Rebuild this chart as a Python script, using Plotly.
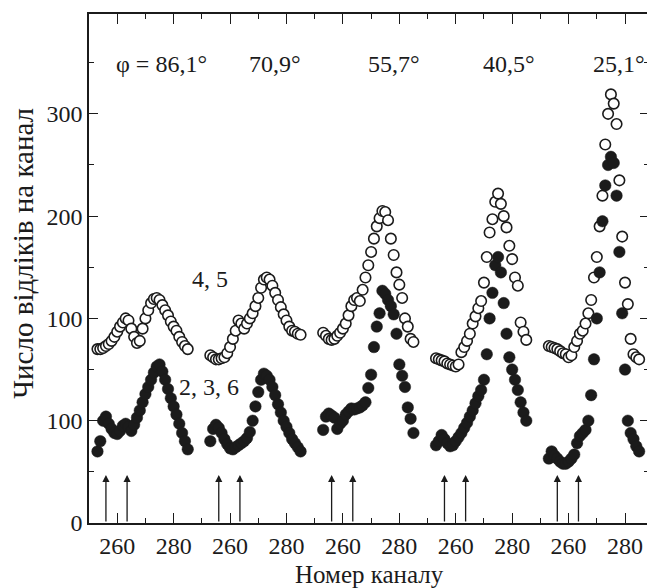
import plotly.graph_objects as go

# ---------------- data ----------------
panel_angles = ["φ = 86,1°", "70,9°", "55,7°", "40,5°", "25,1°"]
panel_offset = [0, 40, 80, 120, 160]          # channel shift used to place panels side by side
channels = list(range(253, 286))              # channel numbers 253..285 (33 channels)

# open circles (spectra 4, 5) -- counts per channel
open_86 = [70, 70, 71, 73, 75, 78, 82, 87, 92, 96, 100, 98, 90, 82, 76, 78, 90, 100, 108, 115, 119, 120, 118, 113, 108, 103, 97, 92, 88, 82, 77, 73, 70]
open_71 = [64, 62, 60, 60, 61, 62, 66, 72, 80, 88, 98, 95, 90, 95, 100, 105, 112, 120, 130, 138, 140, 138, 132, 125, 118, 111, 104, 98, 92, 88, 87, 85, 84]
open_56 = [86, 83, 80, 79, 80, 83, 86, 90, 95, 103, 112, 118, 120, 117, 128, 140, 152, 165, 178, 190, 198, 205, 204, 196, 178, 162, 145, 133, 120, 100, 92, 80, 77]
open_41 = [61, 60, 59, 58, 56, 55, 54, 53, 55, 67, 72, 78, 85, 95, 102, 110, 117, 135, 160, 184, 197, 214, 222, 212, 200, 189, 171, 158, 140, 132, 96, 87, 79]
open_25 = [73, 72, 71, 70, 68, 66, 65, 62, 64, 72, 78, 85, 88, 95, 105, 118, 140, 160, 190, 220, 270, 300, 319, 310, 290, 235, 180, 135, 114, 80, 65, 62, 60]

# filled circles (spectra 2, 3, 6) -- counts per channel
fill_86 = [70, 80, 100, 104, 97, 92, 88, 87, 90, 95, 97, 94, 90, 96, 103, 110, 118, 126, 133, 140, 147, 153, 155, 148, 140, 131, 122, 114, 106, 97, 88, 80, 72]
fill_71 = [80, 92, 96, 93, 88, 82, 77, 73, 72, 74, 76, 78, 80, 83, 89, 100, 114, 128, 140, 146, 144, 140, 133, 125, 116, 108, 100, 94, 88, 82, 78, 74, 70]
fill_56 = [91, 104, 107, 105, 103, 92, 97, 100, 106, 109, 112, 111, 112, 113, 115, 118, 132, 145, 172, 192, 205, 227, 224, 218, 212, 204, 185, 155, 144, 133, 113, 102, 88]
fill_41 = [76, 80, 86, 82, 78, 75, 76, 80, 84, 88, 93, 98, 104, 110, 117, 124, 130, 140, 165, 200, 225, 252, 260, 245, 215, 185, 162, 150, 140, 130, 118, 108, 100]
fill_25 = [63, 70, 66, 63, 60, 58, 58, 60, 63, 67, 78, 85, 88, 91, 100, 125, 160, 200, 245, 295, 330, 350, 358, 352, 320, 265, 205, 150, 100, 88, 82, 75, 70]

open_series = [open_86, open_71, open_56, open_41, open_25]
fill_series = [fill_86, fill_71, fill_56, fill_41, fill_25]
open_shift = 100                               # open-circle spectra are shifted up by 100 counts

arrow_channels = [256, 263.5]
arrow_height = 47

x_tick_channels = [260, 280]
y_tickvals = [0, 100, 200, 300, 400]
y_ticktext = ["0", "100", "100", "200", "300"]

FONT = "Liberation Serif, Times New Roman, serif"
INK = "#1b1b1b"

fig = go.Figure()

for k in range(5):
    xs = [c + panel_offset[k] for c in channels]
    fig.add_trace(go.Scatter(
        x=xs, y=[v + open_shift for v in open_series[k]], mode="markers",
        marker=dict(symbol="circle", size=10.5, color="white", line=dict(color=INK, width=1.6)),
        showlegend=False, hoverinfo="skip"))
    fig.add_trace(go.Scatter(
        x=xs, y=fill_series[k], mode="markers",
        marker=dict(symbol="circle", size=11.5, color=INK, line=dict(color=INK, width=0.5)),
        showlegend=False, hoverinfo="skip"))

# x ticks: repeated per panel
tickvals, ticktext = [], []
for k in range(5):
    for c in x_tick_channels:
        tickvals.append(c + panel_offset[k])
        ticktext.append(str(c))

annotations = []
# arrows
for k in range(5):
    for c in arrow_channels:
        annotations.append(dict(
            x=c + panel_offset[k], y=arrow_height, ax=c + panel_offset[k], ay=0,
            xref="x", yref="y", axref="x", ayref="y", text="", showarrow=True,
            arrowhead=2, arrowsize=1.1, arrowwidth=1.3, arrowcolor=INK))

# panel angle labels
angle_x = [275.7, 316, 358, 399, 438]
for lbl, xa in zip(panel_angles, angle_x):
    annotations.append(dict(x=xa, y=449, xref="x", yref="y", text=lbl, showarrow=False,
                            xanchor="center", yanchor="middle",
                            font=dict(family=FONT, size=24, color=INK)))

annotations.append(dict(x=293, y=239, xref="x", yref="y", text="4, 5", showarrow=False,
                        xanchor="center", yanchor="middle",
                        font=dict(family=FONT, size=24, color=INK)))
annotations.append(dict(x=292.7, y=133, xref="x", yref="y", text="2, 3, 6", showarrow=False,
                        xanchor="center", yanchor="middle",
                        font=dict(family=FONT, size=24, color=INK)))

# axis titles
annotations.append(dict(x=(22 - 89) / 562, y=(523 - 253) / 510, xref="paper", yref="paper",
                        text="Число відліків на канал", textangle=-90, showarrow=False,
                        xanchor="center", yanchor="middle",
                        font=dict(family=FONT, size=29, color=INK)))
annotations.append(dict(x=0.5, y=(523 - 575) / 510, xref="paper", yref="paper",
                        text="Номер каналу", showarrow=False,
                        xanchor="center", yanchor="middle",
                        font=dict(family=FONT, size=25, color=INK)))

# the page body has an 8px margin, so the figure is sized/offset to compensate
fig.update_layout(
    width=647, height=580,
    margin=dict(l=81, r=4, t=5, b=65),
    paper_bgcolor="white", plot_bgcolor="white",
    font=dict(family=FONT, size=24, color=INK),
    annotations=annotations,
    xaxis=dict(range=[250, 448.5], tickvals=tickvals, ticktext=ticktext,
               ticks="inside", ticklen=10, tickwidth=1.3, tickcolor=INK,
               minor=dict(dtick=20, tick0=270, ticks="inside", ticklen=5, tickwidth=1.3, tickcolor=INK),
               showline=True, linecolor=INK, linewidth=1.5, mirror="ticks",
               showgrid=False, zeroline=False, tickfont=dict(family=FONT, size=24, color=INK)),
    yaxis=dict(range=[0, 497.6], tickvals=y_tickvals, ticktext=y_ticktext,
               ticks="inside", ticklen=9, tickwidth=1.3, tickcolor=INK,
               minor=dict(dtick=100, tick0=50, ticks="inside", ticklen=5, tickwidth=1.3, tickcolor=INK),
               showline=True, linecolor=INK, linewidth=1.5, mirror="ticks",
               showgrid=False, zeroline=False, tickfont=dict(family=FONT, size=24, color=INK)),
)

fig.write_html("out.html")
